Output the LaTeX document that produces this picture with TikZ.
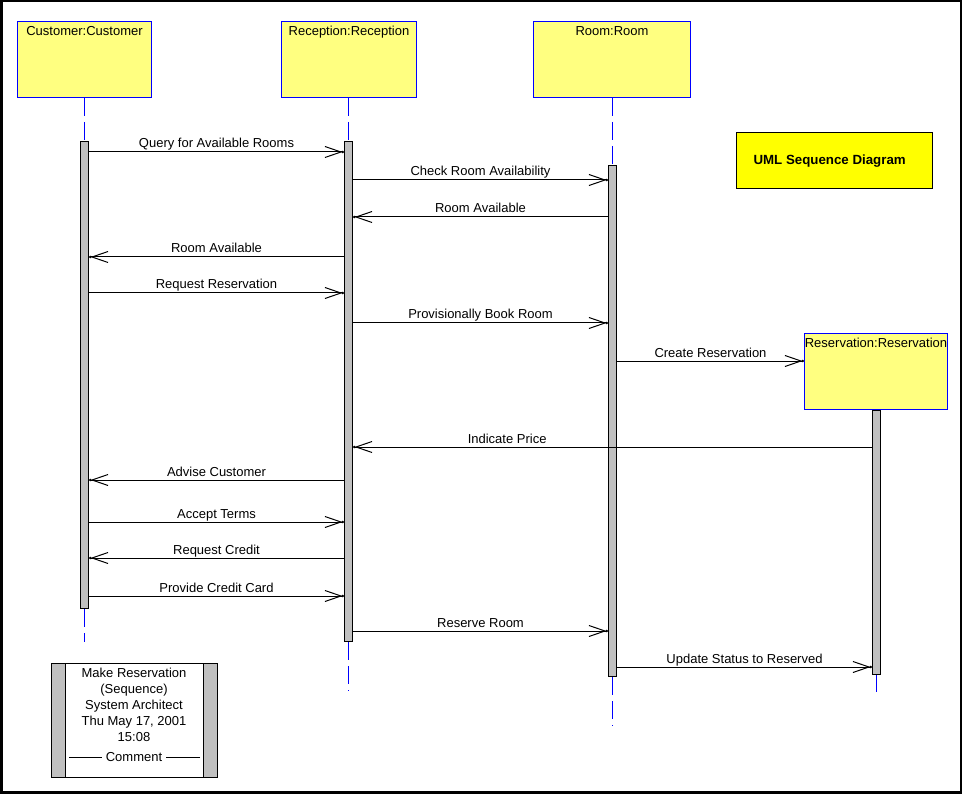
\documentclass[tikz,border=0pt]{standalone}
\usepackage{fontspec}
\setmainfont{Liberation Sans}
\usetikzlibrary{arrows.meta}
\definecolor{objfill}{HTML}{FFFF80}
\definecolor{objline}{HTML}{0000FF}
\definecolor{barfill}{HTML}{C0C0C0}
\definecolor{titlefill}{HTML}{FFFF00}

\begin{document}
\begin{tikzpicture}[x=1pt, y=-1pt, line width=1pt,
  font=\fontsize{13}{15}\selectfont,
  obj/.style={draw=objline, fill=objfill, anchor=north west, inner sep=0},
  objname/.style={anchor=north, yshift=-5pt, inner sep=0},
  bar/.style={draw, fill=barfill, minimum width=8pt, anchor=north, inner sep=0},
  life/.style={objline, dash pattern=on 18pt off 6pt},
  msg/.style={-{Straight Barb[length=16pt,width=11pt,sep=-1pt]Circle[length=2.5pt]}},
  lbl/.style={anchor=base, yshift=4pt, inner sep=0}]
  \useasboundingbox (0,0) rectangle (964,794);
  \draw[line width=2.5pt] (1.25,1.25) rectangle (961,792.7);

  % objects
  \node[obj, minimum width=134pt, minimum height=76pt] (cust) at (17,21) {};
  \node[objname] (custname) at (cust.north) {Customer:Customer};
  \node[obj, minimum width=135pt, minimum height=76pt] (rec) at (281,21) {};
  \node[objname] (recname) at (rec.north) {Reception:Reception};
  \node[obj, minimum width=157pt, minimum height=76pt] (room) at (533,21) {};
  \node[objname] (roomname) at (room.north) {Room:Room};
  \node[obj, minimum width=143pt, minimum height=76pt] (resv) at (804,333) {};
  \node[objname] (resvname) at (resv.north) {Reservation:Reservation};

  \node[draw, fill=titlefill, minimum width=196pt, minimum height=56pt,
    anchor=north west, inner sep=0] (title) at (736,132) {};
  \node[anchor=base west, inner sep=0, font=\fontsize{13.3}{15}\selectfont\bfseries]
    (titletext) at (753,165) {UML Sequence Diagram};

  % activations
  \node[bar, minimum height=467pt] (custbar) at (84.5,141) {};
  \node[bar, minimum height=500pt] (recbar) at (348.5,141) {};
  \node[bar, minimum height=511pt] (roombar) at (612.5,165) {};
  \node[bar, minimum height=264pt] (resvbar) at (876.5,410) {};

  % lifelines
  \coordinate (custend) at (84.5,642);
  \coordinate (recend) at (348.5,691);
  \coordinate (roomend) at (612.5,726);
  \coordinate (resvend) at (876.5,692);
  \draw[life] (custbar.north |- cust.south) -- (custbar.north);
  \draw[life] (recbar.north |- rec.south) -- (recbar.north);
  \draw[life] (roombar.north |- room.south) -- (roombar.north);
  \draw[life] (custbar.south) -- (custend);
  \draw[life] (recbar.south) -- (recend);
  \draw[life] (roombar.south) -- (roomend);
  \draw[life] (resvbar.south) -- (resvend);

  % messages
  \draw[msg] (custbar.east |- 0,152) -- (recbar.west |- 0,152)
    node[lbl, midway] {Query for Available Rooms};
  \draw[msg] (recbar.east |- 0,180) -- (roombar.west |- 0,180)
    node[lbl, midway] {Check Room Availability};
  \draw[msg] (roombar.west |- 0,217) -- (recbar.east |- 0,217)
    node[lbl, midway] {Room Available};
  \draw[msg] (recbar.west |- 0,257) -- (custbar.east |- 0,257)
    node[lbl, midway] {Room Available};
  \draw[msg] (custbar.east |- 0,293) -- (recbar.west |- 0,293)
    node[lbl, midway] {Request Reservation};
  \draw[msg] (recbar.east |- 0,323) -- (roombar.west |- 0,323)
    node[lbl, midway] {Provisionally Book Room};
  \draw[msg] (roombar.east |- 0,361) -- (resv.west |- 0,361)
    node[lbl, midway] {Create Reservation};
  \draw[msg] (resvbar.west |- 0,447) -- (recbar.east |- 0,447)
    node[lbl, pos=0.703] {Indicate Price};
  \draw[msg] (recbar.west |- 0,480) -- (custbar.east |- 0,480)
    node[lbl, midway] {Advise Customer};
  \draw[msg] (custbar.east |- 0,522) -- (recbar.west |- 0,522)
    node[lbl, midway] {Accept Terms};
  \draw[msg] (recbar.west |- 0,558) -- (custbar.east |- 0,558)
    node[lbl, midway] {Request Credit};
  \draw[msg] (custbar.east |- 0,596) -- (recbar.west |- 0,596)
    node[lbl, midway] {Provide Credit Card};
  \draw[msg] (recbar.east |- 0,631) -- (roombar.west |- 0,631)
    node[lbl, midway] {Reserve Room};
  \draw[msg] (roombar.east |- 0,667) -- (resvbar.west |- 0,667)
    node[lbl, midway] {Update Status to Reserved};

  % comment
  \node[draw, fill=white, minimum width=166pt, minimum height=114pt,
    anchor=north west, inner sep=0] (note) at (51,663) {};
  \node[draw, fill=barfill, minimum width=14pt, minimum height=114pt,
    anchor=north west, inner sep=0] (noteleft) at (note.north west) {};
  \node[draw, fill=barfill, minimum width=14pt, minimum height=114pt,
    anchor=north east, inner sep=0] (noteright) at (note.north east) {};
  \node[anchor=north, align=center, inner sep=0,
    font=\fontsize{13}{16}\selectfont] (notetext) at (134,668)
    {Make Reservation\\(Sequence)\\System Architect\\Thu May 17, 2001\\15:08};
  \node[anchor=base, inner xsep=3pt, inner ysep=0] (notecmt) at (134,761.5) {Comment};
  \draw (noteleft.east |- notecmt.west) ++(3,0) -- (notecmt.west);
  \draw (noteright.west |- notecmt.east) ++(-3,0) -- (notecmt.east);
\end{tikzpicture}
\end{document}
